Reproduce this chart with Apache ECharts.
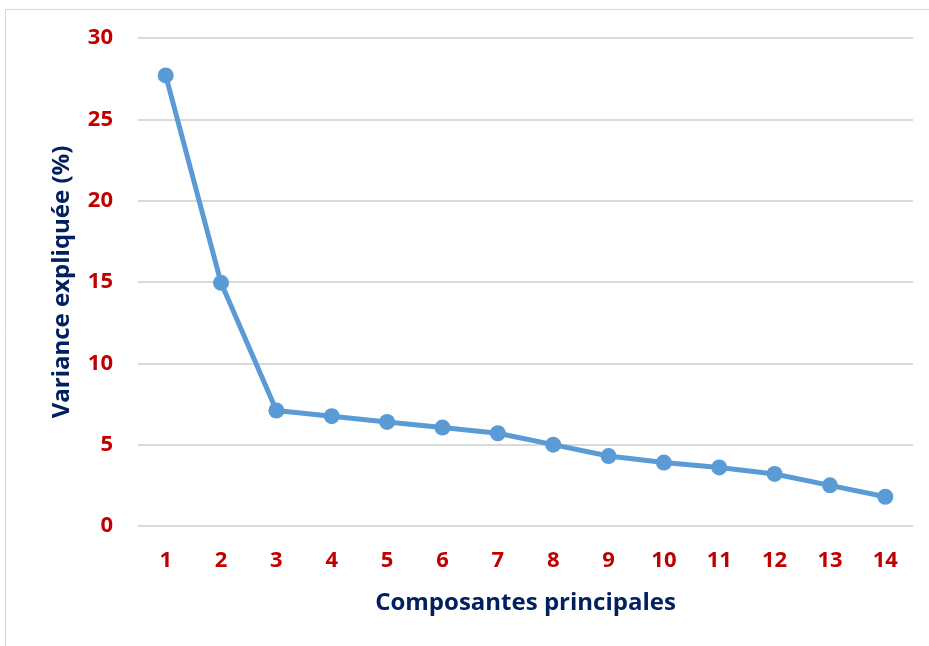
<!DOCTYPE html>
<html>
<head>
<meta charset="utf-8">
<script src="https://cdn.jsdelivr.net/npm/echarts@6/dist/echarts.min.js"></script>
<style>
  html, body { margin: 0; padding: 0; background: #fff; }
  #chart { width: 929px; height: 646px; }
</style>
</head>
<body>
<div id="chart"></div>
<script>
// composantes et variance expliquée (%)
var composantes = ['1','2','3','4','5','6','7','8','9','10','11','12','13','14'];
var variance = [27.7, 14.95, 7.1, 6.75, 6.4, 6.05, 5.7, 5.0, 4.3, 3.9, 3.6, 3.2, 2.5, 1.8];
var yTicks = [0, 5, 10, 15, 20, 25, 30];

var police = 'Open Sans';
var chart = echarts.init(document.getElementById('chart'));
var option = {
  backgroundColor: '#fff',
  textStyle: { fontFamily: police },
  graphic: [{
    type: 'rect',
    shape: { x: 5.5, y: 9.5, width: 960, height: 700 },
    style: { fill: 'none', stroke: '#d9d9d9', lineWidth: 1 },
    silent: true
  }],
  grid: { left: 138, right: 16, top: 38, bottom: 120 },
  xAxis: {
    type: 'category',
    data: composantes,
    boundaryGap: true,
    name: 'Composantes principales',
    nameLocation: 'middle',
    nameGap: 65,
    nameTextStyle: { color: '#002060', fontSize: 24, fontWeight: 'bold', fontFamily: police },
    axisLine: { show: false },
    axisTick: { show: false },
    axisLabel: { color: '#c00000', fontSize: 22, fontWeight: 'bold', margin: 24, fontFamily: police }
  },
  yAxis: {
    type: 'value',
    min: yTicks[0],
    max: yTicks[yTicks.length - 1],
    interval: 5,
    name: 'Variance expliquée (%)',
    nameLocation: 'middle',
    nameGap: 64,
    nameTextStyle: { color: '#002060', fontSize: 24, fontWeight: 'bold', fontFamily: police },
    axisLine: { show: false },
    axisTick: { show: false },
    axisLabel: { color: '#c00000', fontSize: 22, fontWeight: 'bold', margin: 25, fontFamily: police },
    splitLine: { lineStyle: { color: '#d9d9d9', width: 2 } }
  },
  series: [{
    type: 'line',
    data: variance,
    symbol: 'circle',
    symbolSize: 16,
    lineStyle: { color: '#5b9bd5', width: 5 },
    itemStyle: { color: '#5b9bd5' },
    animation: false
  }]
};
chart.setOption(option);
</script>
</body>
</html>
